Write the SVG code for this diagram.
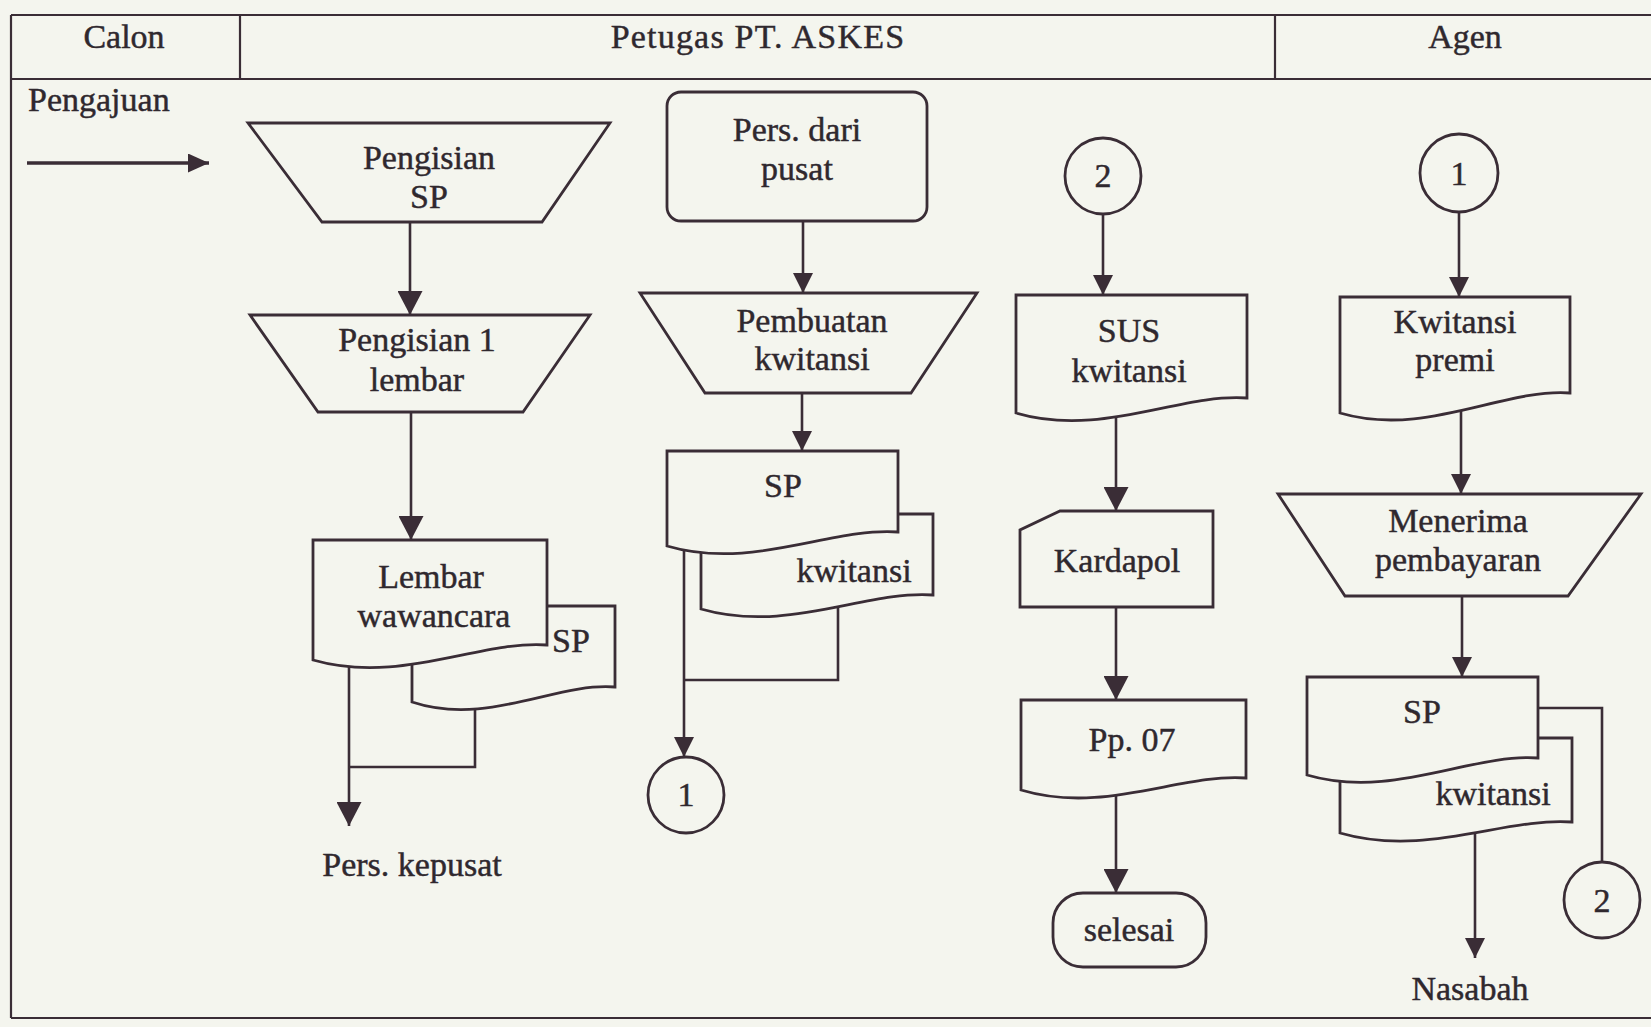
<svg xmlns="http://www.w3.org/2000/svg" width="1651" height="1027" viewBox="0 0 1651 1027">
<defs>
<style>
.bg{fill:#f4f5ee}
.sh{fill:#f4f5ee;stroke:#3a2d36;stroke-width:2.8;stroke-linejoin:miter}
.ln{fill:none;stroke:#3a2d36;stroke-width:2.6}
.fr{fill:none;stroke:#3a2d36;stroke-width:2.2}
text{font-family:"Liberation Serif","Times New Roman",serif;font-size:34px;fill:#2f282e;stroke:#2f282e;stroke-width:0.45;text-anchor:middle}
</style>
<marker id="ah" markerUnits="userSpaceOnUse" markerWidth="24" markerHeight="25" refX="24" refY="12.5" orient="auto">
<path d="M0,0 L24,12.5 L0,25 Z" fill="#3a2d36"/>
</marker>
<marker id="ahm" markerUnits="userSpaceOnUse" markerWidth="20" markerHeight="20" refX="20" refY="10" orient="auto">
<path d="M0,0 L20,10 L0,20 Z" fill="#3a2d36"/>
</marker>
<marker id="ahp" markerUnits="userSpaceOnUse" markerWidth="21" markerHeight="19" refX="21" refY="9.5" orient="auto">
<path d="M0,0 L21,9.5 L0,19 Z" fill="#3a2d36"/>
</marker>
</defs>
<rect class="bg" x="0" y="0" width="1651" height="1027"/>

<g id="frame">
<path class="fr" d="M11,15 H1651 M11,79 H1651 M11,1018 H1651 M11,15 V1018 M240,15 V79 M1275,15 V79"/>
<text x="124" y="48">Calon</text>
<text x="758" y="48" style="letter-spacing:1.2px">Petugas PT. ASKES</text>
<text x="1465" y="48">Agen</text>
<text x="28" y="111" style="text-anchor:start">Pengajuan</text>
</g>

<g id="connectors">
<path class="ln" d="M27,163 H209" style="stroke-width:3.6" marker-end="url(#ahp)"/>
<path class="ln" d="M410,222 V315" marker-end="url(#ah)"/>
<path class="ln" d="M411,412 V540" marker-end="url(#ah)"/>
<path class="ln" d="M349,664 V826" marker-end="url(#ah)"/>
<path class="ln" d="M475,708 V767 H349"/>
<path class="ln" d="M803,221 V293" marker-end="url(#ahm)"/>
<path class="ln" d="M802,393 V451" marker-end="url(#ahm)"/>
<path class="ln" d="M684,548 V757" marker-end="url(#ahm)"/>
<path class="ln" d="M838,603 V680 H684"/>
<path class="ln" d="M1103,214 V295" marker-end="url(#ahm)"/>
<path class="ln" d="M1116,416 V511" marker-end="url(#ah)"/>
<path class="ln" d="M1116,607 V700" marker-end="url(#ah)"/>
<path class="ln" d="M1116,796 V893" marker-end="url(#ah)"/>
<path class="ln" d="M1459,212 V297" marker-end="url(#ahm)"/>
<path class="ln" d="M1461,410 V494" marker-end="url(#ahm)"/>
<path class="ln" d="M1462,596 V677" marker-end="url(#ahm)"/>
<path class="ln" d="M1538,708 H1602 V862"/>
<path class="ln" d="M1475,831 V958" marker-end="url(#ahm)"/>
</g>

<g id="pengisian-sp">
<path class="sh" d="M248,123 H610 L542,222 H322 Z"/>
<text x="429" y="169">Pengisian</text>
<text x="429" y="208">SP</text>
</g>

<g id="pengisian-lembar">
<path class="sh" d="M250,315 H590 L523,412 H318 Z"/>
<text x="417" y="351">Pengisian 1</text>
<text x="417" y="391">lembar</text>
</g>

<g id="sp-doc-1">
<path class="sh" d="M412,606 H615 V687 C556,682 487,727 412,702 Z"/>
<text x="571" y="652">SP</text>
</g>

<g id="lembar-wawancara">
<path class="sh" d="M313,540 H547 V645 C479,640 400,685 313,660 Z"/>
<text x="431" y="588">Lembar</text>
<text x="434" y="627">wawancara</text>
</g>

<g id="pers-kepusat">
<text x="412" y="876">Pers. kepusat</text>
</g>

<g id="pers-dari-pusat">
<rect class="sh" x="667" y="92" width="260" height="129" rx="14"/>
<text x="797" y="141">Pers. dari</text>
<text x="797" y="180">pusat</text>
</g>

<g id="pembuatan-kwitansi">
<path class="sh" d="M640,293 H977 L911,393 H705 Z"/>
<text x="812" y="332">Pembuatan</text>
<text x="812" y="370">kwitansi</text>
</g>

<g id="kwitansi-doc-1">
<path class="sh" d="M701,514 H933 V595 C866,590 787,634 701,609 Z"/>
<text x="854" y="582">kwitansi</text>
</g>

<g id="sp-doc-2">
<path class="sh" d="M667,451 H898 V532 C831,527 752,571 667,546 Z"/>
<text x="783" y="497">SP</text>
</g>

<g id="connector-1-out">
<circle class="sh" cx="686" cy="795" r="38"/>
<text x="686" y="806">1</text>
</g>

<g id="connector-2-in">
<circle class="sh" cx="1103" cy="176" r="38"/>
<text x="1103" y="187">2</text>
</g>

<g id="sus-kwitansi">
<path class="sh" d="M1016,295 H1247 V398 C1180,393 1101,438 1016,413 Z"/>
<text x="1129" y="342">SUS</text>
<text x="1129" y="382">kwitansi</text>
</g>

<g id="kardapol">
<path class="sh" d="M1060,511 H1213 V607 H1020 V530 Z"/>
<text x="1117" y="572">Kardapol</text>
</g>

<g id="pp07">
<path class="sh" d="M1021,700 H1246 V778 C1181,773 1104,815 1021,790 Z"/>
<text x="1132" y="751">Pp. 07</text>
</g>

<g id="selesai">
<rect class="sh" x="1053" y="893" width="153" height="74" rx="30"/>
<text x="1129" y="941">selesai</text>
</g>

<g id="connector-1-in">
<circle class="sh" cx="1459" cy="173" r="39"/>
<text x="1459" y="185">1</text>
</g>

<g id="kwitansi-premi">
<path class="sh" d="M1340,297 H1570 V393 C1503,388 1425,438 1340,413 Z"/>
<text x="1455" y="333">Kwitansi</text>
<text x="1455" y="371">premi</text>
</g>

<g id="menerima-pembayaran">
<path class="sh" d="M1278,494 H1641 L1568,596 H1345 Z"/>
<text x="1458" y="532">Menerima</text>
<text x="1458" y="571">pembayaran</text>
</g>

<g id="kwitansi-doc-2">
<path class="sh" d="M1340,738 H1572 V822 C1505,817 1426,858 1340,833 Z"/>
<text x="1493" y="805">kwitansi</text>
</g>

<g id="sp-doc-3">
<path class="sh" d="M1307,677 H1538 V758 C1471,753 1392,800 1307,775 Z"/>
<text x="1422" y="723">SP</text>
</g>

<g id="connector-2-out">
<circle class="sh" cx="1602" cy="900" r="38"/>
<text x="1602" y="912">2</text>
</g>

<g id="nasabah">
<text x="1470" y="1000">Nasabah</text>
</g>
</svg>
